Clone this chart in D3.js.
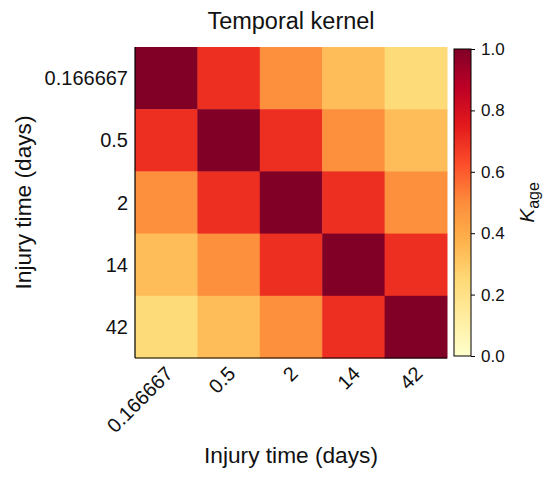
<!DOCTYPE html>
<html>
<head>
<meta charset="utf-8">
<script src="https://cdn.jsdelivr.net/npm/d3@7"></script>
<style>
  body { margin: 0; background: #fff; }
  text { font-family: "Liberation Sans", Arial, sans-serif; fill: #111; }
</style>
</head>
<body>
<svg id="chart" width="557" height="481"></svg>
<script>
// injury times (days), used for both axes
const times = ["0.166667", "0.5", "2", "14", "42"];
// kernel rows
const row0 = [1.00, 0.70, 0.49, 0.34, 0.24];
const row1 = [0.70, 1.00, 0.70, 0.49, 0.34];
const row2 = [0.49, 0.70, 1.00, 0.70, 0.49];
const row3 = [0.34, 0.49, 0.70, 1.00, 0.70];
const row4 = [0.24, 0.34, 0.49, 0.70, 1.00];
const rows = [row0, row1, row2, row3, row4];
const cbarTicks = [0, 0.2, 0.4, 0.6, 0.8, 1.0];

// matplotlib YlOrRd stops
const ylorrd = ["#ffffcc", "#ffeda0", "#fed976", "#feb24c", "#fd8d3c",
                "#fc4e2a", "#e31a1c", "#bd0026", "#800026"];

const box = { left: 135, right: 447, top: 47, bottom: 358 };

const svg = d3.select('#chart');

const x = d3.scaleBand()
    .domain(times)
    .range([box.left, box.right]);

const y = d3.scaleBand()
    .domain(times)
    .range([box.top, box.bottom]);

const color = d3.scaleLinear()
    .domain(d3.range(ylorrd.length).map(i => i / (ylorrd.length - 1)))
    .range(ylorrd)
    .interpolate(d3.interpolateRgb);

const cells = [];
rows.forEach((r, i) => {
    r.forEach((v, j) => cells.push({ row: times[i], col: times[j], value: v }));
});

svg.append('g')
    .selectAll('rect')
    .data(cells)
    .enter()
    .append('rect')
    .attr('x', d => x(d.col))
    .attr('y', d => y(d.row))
    .attr('width', x.bandwidth() + 0.5)
    .attr('height', y.bandwidth() + 0.5)
    .attr('fill', d => color(d.value));

// spines: left and bottom only
svg.append('line')
    .attr('x1', box.left).attr('x2', box.left)
    .attr('y1', box.top).attr('y2', box.bottom)
    .attr('stroke', '#000').attr('stroke-width', 1.2);
svg.append('line')
    .attr('x1', box.left).attr('x2', box.right)
    .attr('y1', box.bottom).attr('y2', box.bottom)
    .attr('stroke', '#000').attr('stroke-width', 1.2);

// y tick labels
svg.append('g')
    .selectAll('text')
    .data(times)
    .enter()
    .append('text')
    .attr('x', box.left - 7)
    .attr('y', d => y(d) + y.bandwidth() / 2)
    .attr('dy', '0.35em')
    .attr('text-anchor', 'end')
    .attr('font-size', 20)
    .text(d => d);

// x tick labels, rotated
svg.append('g')
    .selectAll('text')
    .data(times)
    .enter()
    .append('text')
    .attr('transform', d => `translate(${x(d) + x.bandwidth() / 2 + 8}, ${box.bottom + 17}) rotate(-45)`)
    .attr('text-anchor', 'end')
    .attr('font-size', 20)
    .text(d => d);

// title and axis labels
svg.append('text')
    .attr('x', (box.left + box.right) / 2)
    .attr('y', 29)
    .attr('text-anchor', 'middle')
    .attr('font-size', 23.5)
    .attr('fill', '#222')
    .text('Temporal kernel');

svg.append('text')
    .attr('x', (box.left + box.right) / 2)
    .attr('y', 463)
    .attr('text-anchor', 'middle')
    .attr('font-size', 22.7)
    .text('Injury time (days)');

svg.append('text')
    .attr('transform', `translate(31, ${(box.top + box.bottom) / 2}) rotate(-90)`)
    .attr('text-anchor', 'middle')
    .attr('font-size', 22.7)
    .text('Injury time (days)');

// colorbar
const cb = { left: 454, right: 471, top: 49, bottom: 356 };
const cy = d3.scaleLinear().domain([0, 1]).range([cb.bottom, cb.top]);

const defs = svg.append('defs');
const grad = defs.append('linearGradient')
    .attr('id', 'cbgrad')
    .attr('x1', 0).attr('x2', 0).attr('y1', 1).attr('y2', 0);
grad.selectAll('stop')
    .data(ylorrd)
    .enter()
    .append('stop')
    .attr('offset', (d, i) => i / (ylorrd.length - 1))
    .attr('stop-color', d => d);

svg.append('rect')
    .attr('x', cb.left)
    .attr('y', cb.top)
    .attr('width', cb.right - cb.left)
    .attr('height', cb.bottom - cb.top)
    .attr('fill', 'url(#cbgrad)')
    .attr('stroke', '#000')
    .attr('stroke-width', 1);

const cAxis = svg.append('g')
    .attr('transform', `translate(${cb.right}, 0)`)
    .call(d3.axisRight(cy).tickValues(cbarTicks).tickFormat(d3.format('.1f')).tickSize(4).tickPadding(6));
cAxis.select('.domain').remove();
cAxis.selectAll('text').attr('font-size', 17).attr('fill', '#111')
    .attr('font-family', '"Liberation Sans", Arial, sans-serif');

const klabel = svg.append('text')
    .attr('transform', `translate(534, ${(cb.top + cb.bottom) / 2}) rotate(-90)`)
    .attr('text-anchor', 'middle')
    .attr('font-size', 21);
klabel.append('tspan').attr('font-style', 'italic').text('K');
klabel.append('tspan').attr('font-size', 16).attr('dy', 5).text('age');
</script>
</body>
</html>
